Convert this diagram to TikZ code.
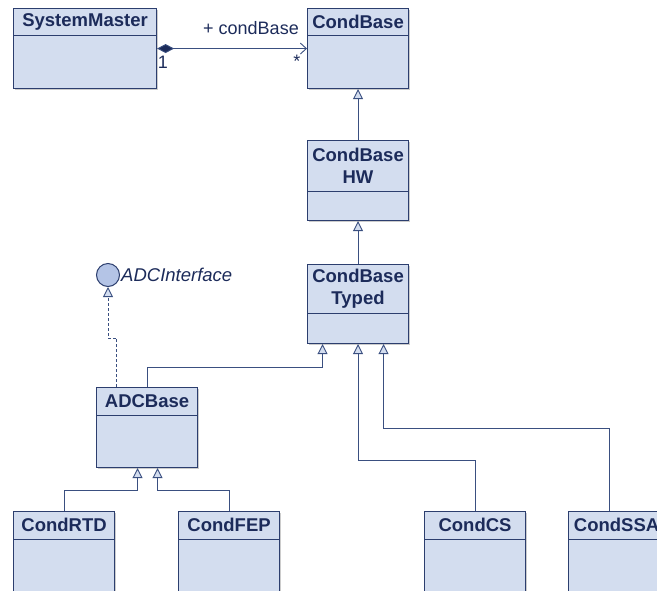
\documentclass[tikz,border=0pt]{standalone}
\usepackage{fontspec}
\setmainfont{Liberation Sans}
\usetikzlibrary{arrows.meta,calc,shadows}
\definecolor{boxfill}{HTML}{D3DDEF}
\definecolor{boxdraw}{HTML}{2C3E6E}
\definecolor{txt}{HTML}{1C2B5A}
\definecolor{linec}{HTML}{3A4F80}
\definecolor{circfill}{HTML}{B4C4E6}
\tikzset{
  cls/.style={draw=boxdraw, fill=boxfill, line width=1.1pt, anchor=north west, inner sep=0pt,
    drop shadow={shadow xshift=1.3pt, shadow yshift=-1.3pt, fill=black!40, opacity=0.5}},
  div/.style={draw=boxdraw, line width=1pt},
  ttl/.style={font=\fontsize{18.5}{22}\selectfont\bfseries, text=txt, align=center, inner sep=0pt},
  lbl/.style={font=\fontsize{18}{20}\selectfont, text=txt, inner sep=0pt},
  conn/.style={draw=linec, line width=0.9pt},
  gen/.style={conn, -{Triangle[open, length=10pt, width=10pt, fill=boxfill]}},
  real/.style={conn, dashed, dash pattern=on 3pt off 2pt, -{Triangle[open, length=10pt, width=10pt, fill=boxfill]}},
}
\newcommand\umlclass[7]{%
  \node[cls, minimum width=#4pt, minimum height=#5pt] (#1) at (#2,#3) {};
  \draw[div] ($(#1.north west)+(0,#6)$) -- ($(#1.north east)+(0,#6)$);
  \node[ttl] (#1-t) at ($(#1.north)+(0,#6/2)$) {#7};
}
\begin{document}
\begin{tikzpicture}[x=1pt,y=-1pt]
\useasboundingbox (0,0) rectangle (657,590);
\clip (0,0) rectangle (657,590);
\umlclass{sm}{13}{8}{143}{80}{27}{SystemMaster}
\umlclass{cb}{307}{8}{101}{80}{27}{CondBase}
\umlclass{hw}{307}{140}{101}{80}{51}{CondBase\\HW}
\umlclass{typed}{307}{264}{101}{79}{49}{CondBase\\Typed}
\umlclass{adcb}{96}{387}{101}{80}{28}{ADCBase}
\umlclass{rtd}{13}{511}{101}{100}{28}{CondRTD}
\umlclass{fep}{178}{511}{101}{100}{28}{CondFEP}
\umlclass{cs}{424}{511}{101}{100}{28}{CondCS}
\umlclass{ssa}{568}{511}{96}{100}{28}{CondSSA}

\node[circle, draw=boxdraw, fill=circfill, line width=1pt, minimum size=23pt, inner sep=0pt] (ifc) at (108,275) {};
\node[lbl, anchor=west, font=\fontsize{18.5}{20}\selectfont\itshape] (ifcl) at ([xshift=1pt]ifc.east) {ADCInterface};

% composition
\draw[conn, {Diamond[length=17pt,width=9pt,fill=txt]}-{Straight Barb[length=6pt,width=11pt]}] (sm.east) -- (cb.west);
\node[lbl] (role) at (251,28) {+ condBase};
\node[lbl] (m1) at (163,62) {1};
\node[lbl] (m2) at (297,61) {*};

% generalizations
\draw[gen] (hw.north) -- (cb.south);
\draw[gen] (typed.north) -- (hw.south);
\draw[gen] (adcb.north) -- ++(0,-20) -| ([xshift=-35.5pt]typed.south);
\draw[gen] (cs.north) -- ++(0,-51) -| (typed.south);
\draw[gen] ([xshift=-7pt]ssa.north) -- ++(0,-83) -| ([xshift=25.5pt]typed.south);
\draw[gen] (rtd.north) -- ++(0,-21) -| ([xshift=-9.5pt]adcb.south);
\draw[gen] (fep.north) -- ++(0,-21) -| ([xshift=10.5pt]adcb.south);
% realization
\draw[real] ([xshift=-30.5pt]adcb.north) -- ++(0,-49) -| (ifc.south);
\end{tikzpicture}
\end{document}
